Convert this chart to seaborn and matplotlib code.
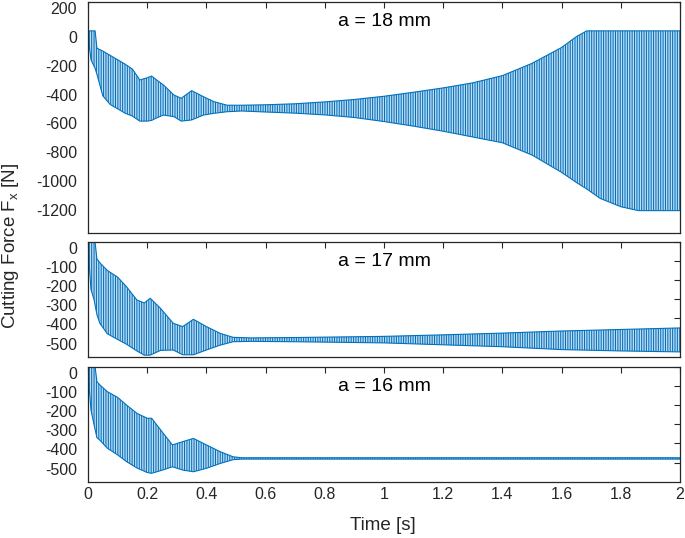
import numpy as np
import matplotlib
matplotlib.use("Agg")
import matplotlib.pyplot as plt
import seaborn as sns

# envelope of the oscillating force signal (time [s], upper / lower [N])
t_18 = [0.0, 0.01, 0.024, 0.03, 0.05, 0.075, 0.1, 0.125, 0.15, 0.175, 0.2, 0.215, 0.235,
        0.255, 0.29, 0.315, 0.35, 0.39, 0.425, 0.47, 0.52, 0.6, 0.7, 0.8, 0.9, 1.0, 1.1,
        1.2, 1.3, 1.4, 1.5, 1.6, 1.65, 1.685, 1.73, 1.8, 1.86, 1.9, 2.0]
upper_18 = [0, 0, 0, -120, -140, -170, -200, -230, -265, -340, -325, -313, -345,
            -375, -444, -467, -414, -456, -490, -515, -515, -512, -505, -492, -475, -453, -425,
            -395, -360, -310, -225, -115, -40, 0, 0, 0, 0, 0, 0]
lower_18 = [-30, -200, -260, -300, -450, -510, -540, -570, -590, -625, -625, -620, -600,
            -583, -594, -625, -617, -583, -571, -560, -555, -562, -570, -582, -600, -628, -660,
            -695, -735, -775, -860, -980, -1050, -1095, -1160, -1218, -1245, -1245, -1245]

t_17 = [0.0, 0.01, 0.02, 0.03, 0.04, 0.065, 0.1, 0.13, 0.165, 0.19, 0.21, 0.245, 0.288,
        0.32, 0.356, 0.4, 0.446, 0.49, 0.55, 0.7, 0.85, 1.0, 1.2, 1.4, 1.6, 1.8, 2.0]
upper_17 = [50, 50, 50, -90, -110, -150, -185, -235, -304, -320, -295, -348, -426,
            -443, -405, -443, -478, -499, -502, -500, -497, -494, -486, -477, -466, -458, -450]
lower_17 = [-30, -250, -300, -380, -426, -480, -510, -535, -570, -592, -592, -567, -565,
            -590, -590, -565, -540, -522, -520, -522, -525, -528, -538, -548, -563, -570, -575]

t_16 = [0.0, 0.01, 0.02, 0.03, 0.04, 0.065, 0.1, 0.13, 0.165, 0.2, 0.215, 0.25, 0.285,
        0.32, 0.356, 0.4, 0.446, 0.49, 0.52, 1.0, 1.5, 2.0]
upper_16 = [50, 50, 50, -78, -95, -130, -160, -200, -243, -269, -269, -339, -408,
            -391, -374, -408, -443, -470, -475, -475, -475, -475]
lower_16 = [-30, -226, -300, -370, -383, -425, -460, -495, -528, -552, -556, -540, -522,
            -539, -548, -530, -505, -485, -482, -482, -482, -482]

x_ticks = [0, 0.2, 0.4, 0.6, 0.8, 1, 1.2, 1.4, 1.6, 1.8, 2]
y_ticks_top = [200, 0, -200, -400, -600, -800, -1000, -1200]
y_ticks_low = [0, -100, -200, -300, -400, -500]

BLUE = "#0072BD"
FILL = "#c2dbf1"
DARK = "#262626"

sns.set_theme(style="white")
plt.rcParams["font.family"] = ["Liberation Sans", "DejaVu Sans"]
plt.rcParams["axes.unicode_minus"] = False
plt.rcParams["hatch.color"] = BLUE
plt.rcParams["hatch.linewidth"] = 0.75


def draw_panel(ax, t, upper, lower, ylim, yticks, label, show_x):
    # dense oscillation drawn as its envelope band, striped like the cycles
    ax.fill_between(t, lower, upper, facecolor=FILL, edgecolor=BLUE,
                    hatch="|||||||", linewidth=0)
    sns.lineplot(x=t, y=upper, ax=ax, color=BLUE, linewidth=0.8)
    sns.lineplot(x=t, y=lower, ax=ax, color=BLUE, linewidth=0.8)
    ax.set_xlim(0, 2)
    ax.set_ylim(*ylim)
    ax.set_xticks(x_ticks)
    ax.set_yticks(yticks)
    ax.set_yticklabels([str(v) for v in yticks])
    for lab in ax.get_yticklabels():
        lab.set_va("top")
    if show_x:
        ax.set_xticklabels([f"{v:g}" for v in x_ticks])
    else:
        ax.set_xticklabels([])
    ax.tick_params(direction="in", top=True, right=True, length=4, width=0.8,
                   color=DARK, labelcolor=DARK, labelsize=11.5)
    ax.tick_params(axis="y", pad=8)
    ax.tick_params(axis="x", pad=4)
    for sp in ax.spines.values():
        sp.set_color(DARK)
        sp.set_linewidth(0.9)
    ax.set_xlabel("")
    ax.set_ylabel("")
    ax.annotate(label, xy=(0.5, 1), xycoords="axes fraction", xytext=(0, -24),
                textcoords="offset pixels", ha="center", va="baseline",
                fontsize=14, color="black")


fig = plt.figure(figsize=(6.85, 5.38), dpi=100)
ax1 = fig.add_axes([0.1285, 0.5669, 0.8642, 0.4294])
ax2 = fig.add_axes([0.1285, 0.3370, 0.8642, 0.2138])
ax3 = fig.add_axes([0.1285, 0.1046, 0.8642, 0.2138])

draw_panel(ax1, t_18, upper_18, lower_18, (-1400, 200), y_ticks_top, "a = 18 mm", False)
draw_panel(ax2, t_17, upper_17, lower_17, (-600, 0), y_ticks_low, "a = 17 mm", False)
draw_panel(ax3, t_16, upper_16, lower_16, (-600, 0), y_ticks_low, "a = 16 mm", True)

fig.text(0.5590, 1 - 526 / 538, "Time [s]", ha="center", va="center",
         fontsize=13.5, color=DARK)
fig.text(0.016, 1 - 246 / 538, r"Cutting Force F$_\mathregular{x}$ [N]", rotation=90,
         ha="center", va="center", fontsize=13.5, color=DARK)

fig.savefig("out.png", dpi=100)
plt.close(fig)
